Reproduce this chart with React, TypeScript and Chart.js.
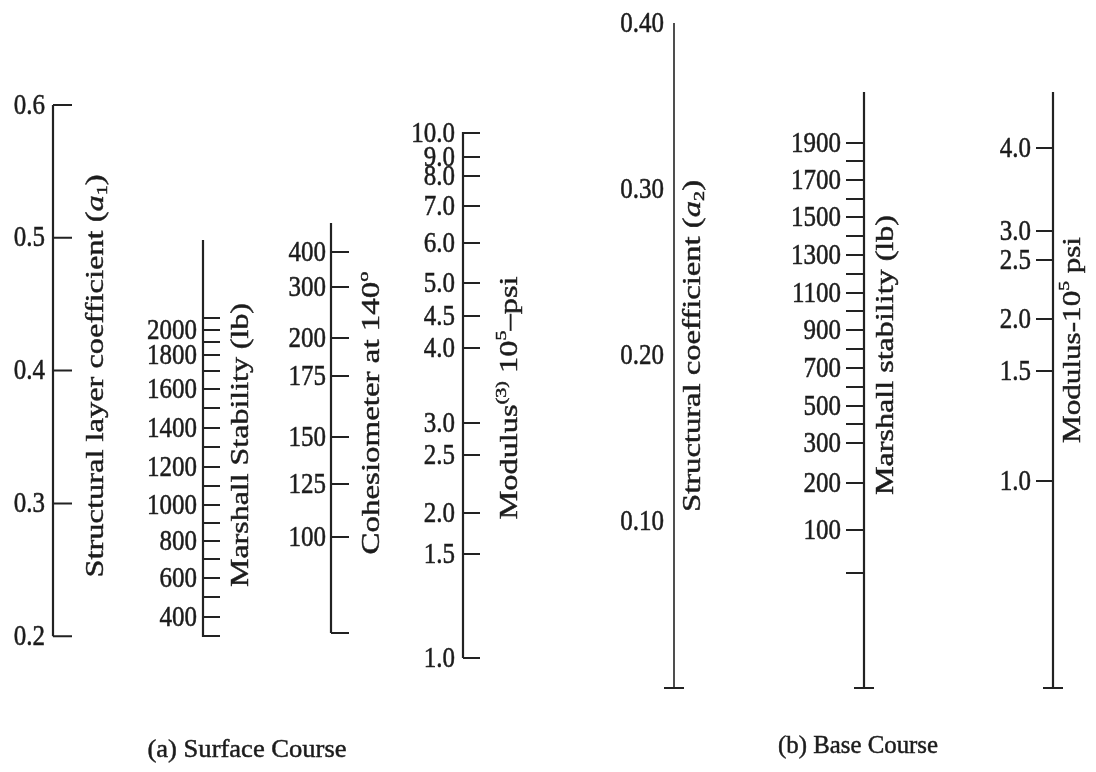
import React, { useEffect, useRef } from "react";
import { Chart, registerables } from "chart.js";

Chart.register(...registerables);

// ---------- DATA ----------
// (a) Surface course: structural layer coefficient a1 is the reference (horizontal reading) scale
const a1Ticks = [0.2, 0.3, 0.4, 0.5, 0.6];
const a1TickLabels = ["0.2", "0.3", "0.4", "0.5", "0.6"];

// Marshall stability (lb) and the a1 value each tick lines up with
const surfMarshallLb = [300, 400, 500, 600, 700, 800, 900, 1000, 1100, 1200, 1300, 1400, 1500, 1600, 1700, 1800, 1900, 2000, 2100];
const surfMarshallAtA1 = [0.2002, 0.2145, 0.2295, 0.2438, 0.2581, 0.2717, 0.2852, 0.2988, 0.3131, 0.3274, 0.3425, 0.3568, 0.3718, 0.3861, 0.3997, 0.4118, 0.4215, 0.4306, 0.4396];
const surfMarshallLabeled = [400, 600, 800, 1000, 1200, 1400, 1600, 1800, 2000];

// Cohesiometer at 140°
const cohesiometerValues = [100, 125, 150, 175, 200, 300, 400];
const cohesiometerAtA1 = [0.2747, 0.3146, 0.35, 0.3959, 0.4246, 0.463, 0.4893];

// Modulus 10^5 psi (surface)
const surfModulusValues = [1.0, 1.5, 2.0, 2.5, 3.0, 4.0, 4.5, 5.0, 6.0, 7.0, 8.0, 9.0, 10.0];
const surfModulusAtA1 = [0.1836, 0.2619, 0.2928, 0.3364, 0.3605, 0.417, 0.4411, 0.466, 0.4961, 0.524, 0.5465, 0.5608, 0.5789];

// (b) Base course: structural coefficient a2 is the reference scale
const a2Ticks = [0.1, 0.2, 0.3, 0.4];
const a2TickLabels = ["0.10", "0.20", "0.30", "0.40"];

const baseMarshallLb = [0, 100, 200, 300, 400, 500, 600, 700, 800, 900, 1000, 1100, 1200, 1300, 1400, 1500, 1600, 1700, 1800, 1900];
const baseMarshallAtA2 = [0.0692, 0.095, 0.1233, 0.1474, 0.1588, 0.1696, 0.181, 0.1925, 0.2039, 0.2153, 0.2268, 0.2376, 0.249, 0.2604, 0.2719, 0.2833, 0.2941, 0.3056, 0.317, 0.3278];
const baseMarshallLabeled = [100, 200, 300, 500, 700, 900, 1100, 1300, 1500, 1700, 1900];

const baseModulusValues = [1.0, 1.5, 2.0, 2.5, 3.0, 4.0];
const baseModulusAtA2 = [0.1245, 0.1907, 0.222, 0.2574, 0.2749, 0.3248];

// ---------- LAYOUT / STYLE ----------
const W = 1096;
const H = 772;
const FONT = '"Liberation Serif", "Times New Roman", serif';
const INK = "#1c1c1c";
const LINE = "#222222";

type Seg = { t: string; it?: boolean; sub?: boolean; sup?: boolean };
type AxisSpec = {
  scale: "yA" | "yB";
  x: number;
  span: [number, number];
  lw: number;
  ticks: number[];
  labels: (string | null)[];
  side: number;
  tickLen: number;
  labelRight: number;
  cap?: "side" | "center";
};

const axes: AxisSpec[] = [
  { scale: "yA", x: 53, span: [0.2, 0.6], lw: 2.2, ticks: a1Ticks, labels: a1TickLabels, side: 1, tickLen: 19, labelRight: 45 },
  {
    scale: "yA", x: 203, span: [0.1994, 0.4984], lw: 2.2, ticks: surfMarshallAtA1,
    labels: surfMarshallLb.map((v) => (surfMarshallLabeled.includes(v) ? String(v) : null)),
    side: 1, tickLen: 17, labelRight: 197,
  },
  {
    scale: "yA", x: 331, span: [0.2024, 0.5112], lw: 2.2, ticks: cohesiometerAtA1,
    labels: cohesiometerValues.map(String), side: 1, tickLen: 18, labelRight: 326, cap: "side",
  },
  {
    scale: "yA", x: 463, span: [0.1836, 0.5797], lw: 2.2, ticks: surfModulusAtA1,
    labels: surfModulusValues.map((v) => v.toFixed(1)), side: 1, tickLen: 17, labelRight: 455,
  },
  { scale: "yB", x: 674, span: [0, 0.4], lw: 1.6, ticks: a2Ticks, labels: a2TickLabels, side: 1, tickLen: 0, labelRight: 664, cap: "center" },
  {
    scale: "yB", x: 864, span: [0, 0.3585], lw: 2.2, ticks: baseMarshallAtA2,
    labels: baseMarshallLb.map((v) => (baseMarshallLabeled.includes(v) ? String(v) : null)),
    side: -1, tickLen: 18, labelRight: 841, cap: "center",
  },
  {
    scale: "yB", x: 1053, span: [0, 0.3585], lw: 2.2, ticks: baseModulusAtA2,
    labels: baseModulusValues.map((v) => v.toFixed(1)), side: -1, tickLen: 17, labelRight: 1031, cap: "center",
  },
];

const titles: { segs: Seg[]; cx: number; cy: number; len: number }[] = [
  { segs: [{ t: "Structural layer coefficient (" }, { t: "a", it: true }, { t: "1", sub: true }, { t: ")" }], cx: 96, cy: 376, len: 403 },
  { segs: [{ t: "Marshall Stability (lb)" }], cx: 241, cy: 445, len: 284 },
  { segs: [{ t: "Cohesiometer at 140" }, { t: "o", sup: true }], cx: 372, cy: 413, len: 283 },
  { segs: [{ t: "Modulus" }, { t: "(3)", sup: true }, { t: " 10" }, { t: "5", sup: true }, { t: "\u2013psi" }], cx: 510, cy: 398, len: 243 },
  { segs: [{ t: "Structural coefficient (" }, { t: "a", it: true }, { t: "2", sub: true }, { t: ")" }], cx: 693, cy: 346, len: 332 },
  { segs: [{ t: "Marshall stability (lb)" }], cx: 886, cy: 355, len: 280 },
  { segs: [{ t: "Modulus-10" }, { t: "5", sup: true }, { t: " psi" }], cx: 1073, cy: 340, len: 206 },
];

const captions: { text: string; cx: number; cy: number; len: number }[] = [
  { text: "(a) Surface Course", cx: 247, cy: 750, len: 199 },
  { text: "(b) Base Course", cx: 858, cy: 746, len: 160 },
];

// ---------- helpers ----------
function segFont(s: Seg, size: number) {
  const sz = s.sub || s.sup ? size * 0.62 : size;
  return `${s.it ? "italic " : ""}${sz}px ${FONT}`;
}

function drawRich(ctx: CanvasRenderingContext2D, segs: Seg[], cx: number, cy: number, size: number, rotate: boolean, len: number, cross: number) {
  ctx.save();
  let total = 0;
  const widths = segs.map((s) => {
    ctx.font = segFont(s, size);
    const w = ctx.measureText(s.t).width;
    total += w;
    return w;
  });
  ctx.translate(cx, cy);
  if (rotate) ctx.rotate(-Math.PI / 2);
  ctx.scale(len / total, cross);
  ctx.fillStyle = INK;
  ctx.strokeStyle = INK;
  ctx.lineWidth = 0.45;
  ctx.textBaseline = "middle";
  ctx.textAlign = "left";
  let x = -total / 2;
  segs.forEach((s, i) => {
    ctx.font = segFont(s, size);
    const dy = s.sub ? size * 0.28 : s.sup ? -size * 0.32 : 0;
    ctx.fillText(s.t, x, dy);
    ctx.strokeText(s.t, x, dy);
    x += widths[i];
  });
  ctx.restore();
}

const textPlugin = {
  id: "nomographText",
  afterDatasetsDraw(chart: any) {
    const ctx: CanvasRenderingContext2D = chart.ctx;
    axes.forEach((ax) => {
      const sc = chart.scales[ax.scale];
      ax.ticks.forEach((t, i) => {
        const lab = ax.labels[i];
        if (!lab) return;
        const y = sc.getPixelForValue(t);
        ctx.save();
        ctx.translate(ax.labelRight, y + 1);
        ctx.scale(1, 1.16);
        ctx.font = `25px ${FONT}`;
        ctx.fillStyle = INK;
        ctx.strokeStyle = INK;
        ctx.lineWidth = 0.45;
        ctx.textAlign = "right";
        ctx.textBaseline = "middle";
        ctx.fillText(lab, 0, 0);
        ctx.strokeText(lab, 0, 0);
        ctx.restore();
      });
    });
    titles.forEach((t) => drawRich(ctx, t.segs, t.cx, t.cy, 25, true, t.len, 1));
    captions.forEach((c) => drawRich(ctx, [{ t: c.text }], c.cx, c.cy, 24, false, c.len, 1.05));
  },
};

function buildDatasets() {
  const ds: any[] = [];
  axes.forEach((ax) => {
    ds.push({
      data: [
        { x: ax.x, y: ax.span[0] },
        { x: ax.x, y: ax.span[1] },
      ],
      yAxisID: ax.scale,
      showLine: true,
      borderColor: LINE,
      borderWidth: ax.lw,
      pointRadius: 0,
    });
    const pts: any[] = [];
    if (ax.tickLen > 0) {
      ax.ticks.forEach((t) => {
        pts.push({ x: ax.x, y: t }, { x: ax.x + ax.side * ax.tickLen, y: t }, { x: ax.x, y: null });
      });
    }
    if (ax.cap === "side") {
      pts.push({ x: ax.x, y: ax.span[0] }, { x: ax.x + ax.side * 18, y: ax.span[0] }, { x: ax.x, y: null });
    } else if (ax.cap === "center") {
      pts.push({ x: ax.x - 10, y: ax.span[0] }, { x: ax.x + 10, y: ax.span[0] }, { x: ax.x, y: null });
    }
    if (pts.length) {
      ds.push({
        data: pts,
        yAxisID: ax.scale,
        showLine: true,
        spanGaps: false,
        borderColor: LINE,
        borderWidth: 2,
        pointRadius: 0,
      });
    }
  });
  return ds;
}

export default function App() {
  const ref = useRef<HTMLCanvasElement | null>(null);
  useEffect(() => {
    if (!ref.current) return;
    const chart = new Chart(ref.current, {
      type: "scatter",
      data: { datasets: buildDatasets() },
      options: {
        animation: false,
        responsive: false,
        devicePixelRatio: 1,
        layout: { padding: 0 },
        plugins: { legend: { display: false }, tooltip: { enabled: false } },
        scales: {
          x: { type: "linear", min: 0, max: W, display: false },
          yA: { type: "linear", position: "left", min: 0.09774, max: 0.67907, display: false },
          yB: { type: "linear", position: "right", min: -0.05053, max: 0.41383, display: false },
        },
      },
      plugins: [textPlugin],
    });
    return () => chart.destroy();
  }, []);
  return (
    <div style={{ position: "fixed", left: 0, top: 0, width: W, height: H, background: "#fff" }}>
      <canvas ref={ref} width={W} height={H} style={{ display: "block" }} />
    </div>
  );
}
